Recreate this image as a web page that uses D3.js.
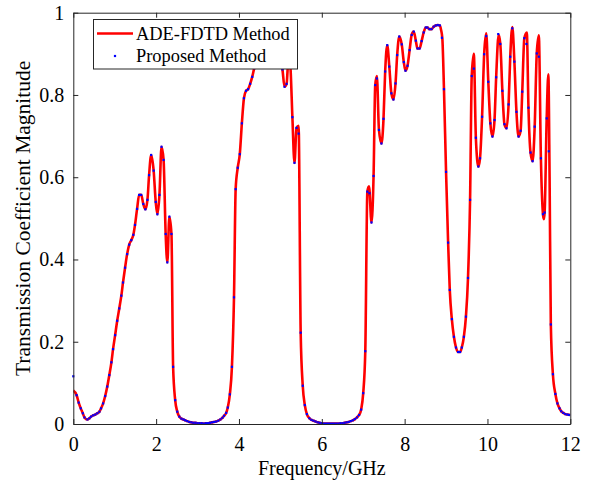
<!DOCTYPE html>
<html>
<head>
<meta charset="utf-8">
<script src="https://cdn.jsdelivr.net/npm/d3@7"></script>
<style>
body { margin: 0; background: #fff; }
text { font-family: "Liberation Serif", "DejaVu Serif", serif; fill: #000; }
</style>
</head>
<body>
<div id="chart"></div>
<script>
// ADE-FDTD curve (red line)
var adeFreq = [0.00,0.08,0.13,0.18,0.23,0.27,0.34,0.39,0.43,0.48,0.53,0.58,0.63,0.67,0.72,0.77,0.82,0.87,0.92,0.96,
	1.01,1.06,1.11,1.16,1.20,1.25,1.30,1.35,1.40,1.45,1.49,1.54,1.59,1.64,1.69,1.74,1.79,1.83,1.88,1.94,
	1.99,2.03,2.08,2.13,2.18,2.23,2.27,2.32,2.37,2.41,2.46,2.51,2.56,2.61,2.66,2.70,2.75,2.80,2.85,2.90,
	2.95,3.00,3.05,3.10,3.15,3.20,3.25,3.30,3.35,3.40,3.45,3.50,3.55,3.60,3.64,3.69,3.73,3.78,3.83,3.88,
	3.92,3.97,4.02,4.07,4.12,4.17,4.22,4.27,4.32,4.37,4.42,4.47,4.52,4.57,4.62,4.67,4.72,4.77,4.82,4.87,
	4.92,4.97,5.01,5.05,5.10,5.15,5.20,5.24,5.29,5.34,5.39,5.44,5.49,5.54,5.59,5.64,5.70,5.75,5.80,5.85,
	5.90,5.95,6.00,6.10,6.20,6.30,6.40,6.50,6.55,6.60,6.65,6.70,6.75,6.80,6.85,6.90,6.95,7.00,7.05,7.10,
	7.14,7.20,7.25,7.29,7.33,7.38,7.44,7.49,7.53,7.58,7.63,7.68,7.73,7.78,7.82,7.87,7.93,7.98,8.02,8.07,
	8.12,8.17,8.22,8.27,8.31,8.36,8.41,8.46,8.51,8.55,8.60,8.65,8.70,8.75,8.80,8.85,8.88,8.91,8.95,9.00,
	9.05,9.09,9.14,9.19,9.24,9.29,9.34,9.38,9.43,9.48,9.53,9.58,9.62,9.67,9.72,9.78,9.82,9.87,9.92,9.97,
	10.02,10.07,10.12,10.17,10.21,10.27,10.31,10.36,10.41,10.46,10.51,10.55,10.60,10.65,10.70,10.75,10.80,10.84,10.89,10.95,
	10.99,11.04,11.09,11.14,11.19,11.24,11.29,11.34,11.36,11.38,11.43,11.47,11.50,11.53,11.58,11.64,11.69,11.74,11.78,11.83,
	11.88,11.93,12.00];
var adeVal = [0.081,0.070,0.052,0.038,0.026,0.016,0.011,0.014,0.018,0.021,0.023,0.026,0.030,0.038,0.050,0.068,0.091,0.119,0.150,0.182,
	0.216,0.251,0.281,0.312,0.344,0.380,0.413,0.436,0.447,0.460,0.484,0.523,0.557,0.557,0.535,0.522,0.545,0.605,0.654,0.616,
	0.540,0.510,0.557,0.674,0.642,0.462,0.393,0.504,0.462,0.139,0.058,0.030,0.018,0.013,0.011,0.009,0.007,0.005,0.004,0.003,
	0.003,0.002,0.002,0.002,0.001,0.002,0.002,0.003,0.004,0.005,0.006,0.008,0.011,0.015,0.020,0.027,0.040,0.072,0.139,0.308,
	0.571,0.623,0.656,0.731,0.792,0.810,0.814,0.827,0.844,0.865,0.878,0.888,0.895,0.905,0.912,0.916,0.910,0.902,0.906,0.915,
	0.918,0.905,0.885,0.862,0.820,0.827,0.895,0.872,0.746,0.635,0.720,0.725,0.222,0.093,0.046,0.024,0.014,0.010,0.008,0.006,
	0.004,0.003,0.002,0.001,0.001,0.001,0.001,0.002,0.003,0.004,0.005,0.007,0.009,0.012,0.016,0.022,0.035,0.075,0.177,0.565,
	0.578,0.490,0.603,0.824,0.846,0.715,0.682,0.742,0.857,0.921,0.869,0.804,0.789,0.828,0.897,0.942,0.923,0.880,0.859,0.871,
	0.909,0.946,0.954,0.932,0.913,0.913,0.931,0.952,0.964,0.964,0.960,0.960,0.966,0.969,0.970,0.969,0.958,0.938,0.814,0.613,
	0.441,0.326,0.255,0.212,0.186,0.175,0.175,0.186,0.212,0.261,0.355,0.545,0.846,0.900,0.696,0.626,0.646,0.747,0.899,0.950,
	0.832,0.731,0.699,0.739,0.843,0.946,0.924,0.810,0.729,0.719,0.777,0.893,0.965,0.881,0.759,0.699,0.713,0.808,0.938,0.952,
	0.769,0.660,0.639,0.723,0.901,0.945,0.646,0.510,0.498,0.514,0.743,0.850,0.600,0.242,0.121,0.073,0.050,0.038,0.031,0.027,
	0.024,0.023,0.022];

// Proposed method samples (blue dots)
var propFreq = [0.00,0.08,0.13,0.18,0.23,0.27,0.34,0.39,0.43,0.48,0.53,0.58,0.63,0.67,0.72,0.77,0.82,0.87,0.92,0.96,
	1.01,1.06,1.11,1.16,1.20,1.25,1.30,1.35,1.40,1.45,1.49,1.54,1.59,1.64,1.69,1.74,1.79,1.83,1.88,1.94,
	1.99,2.03,2.08,2.13,2.18,2.23,2.27,2.32,2.37,2.41,2.46,2.51,2.56,2.61,2.66,2.70,2.75,2.80,2.85,2.90,
	2.95,3.00,3.05,3.10,3.15,3.20,3.25,3.30,3.35,3.40,3.45,3.50,3.55,3.60,3.64,3.69,3.73,3.78,3.83,3.88,
	3.92,3.97,4.02,4.07,4.12,4.17,4.22,4.27,4.32,4.37,4.42,4.47,4.52,4.57,4.62,4.67,4.72,4.77,4.82,4.87,
	4.92,4.97,5.01,5.05,5.10,5.15,5.20,5.24,5.29,5.34,5.39,5.44,5.49,5.54,5.59,5.64,5.70,5.75,5.80,5.85,
	5.90,5.95,6.00,6.05,6.10,6.15,6.20,6.25,6.30,6.35,6.40,6.45,6.50,6.55,6.60,6.65,6.70,6.75,6.80,6.85,
	6.90,6.95,7.00,7.05,7.10,7.15,7.20,7.25,7.29,7.33,7.38,7.44,7.49,7.53,7.58,7.63,7.68,7.73,7.78,7.82,
	7.87,7.93,7.98,8.02,8.07,8.12,8.17,8.22,8.27,8.31,8.36,8.41,8.46,8.51,8.55,8.60,8.65,8.70,8.75,8.80,
	8.85,8.90,8.95,9.00,9.05,9.09,9.14,9.19,9.24,9.29,9.34,9.38,9.43,9.48,9.53,9.58,9.62,9.67,9.72,9.78,
	9.82,9.87,9.92,9.97,10.02,10.07,10.12,10.17,10.21,10.26,10.31,10.36,10.41,10.46,10.51,10.55,10.60,10.65,10.70,10.75,
	10.80,10.84,10.89,10.94,10.99,11.04,11.09,11.14,11.19,11.24,11.29,11.34,11.38,11.43,11.48,11.53,11.58,11.64,11.69,11.74,
	11.78,11.83,11.88,11.93,11.97];
var propVal = [0.116,0.070,0.052,0.038,0.026,0.016,0.011,0.014,0.018,0.021,0.023,0.026,0.030,0.038,0.050,0.068,0.091,0.119,0.150,0.182,
	0.216,0.251,0.281,0.312,0.344,0.380,0.413,0.436,0.447,0.460,0.484,0.523,0.557,0.557,0.535,0.522,0.545,0.605,0.654,0.616,
	0.540,0.510,0.557,0.674,0.642,0.462,0.393,0.504,0.462,0.139,0.058,0.030,0.018,0.013,0.011,0.009,0.007,0.005,0.004,0.003,
	0.003,0.002,0.002,0.002,0.001,0.002,0.002,0.003,0.004,0.005,0.006,0.008,0.011,0.015,0.020,0.027,0.040,0.072,0.139,0.308,
	0.571,0.623,0.656,0.731,0.792,0.810,0.814,0.827,0.844,0.865,0.878,0.888,0.895,0.905,0.912,0.916,0.910,0.902,0.906,0.915,
	0.918,0.905,0.885,0.862,0.820,0.827,0.895,0.872,0.746,0.635,0.720,0.706,0.222,0.093,0.046,0.024,0.014,0.010,0.008,0.006,
	0.004,0.003,0.002,0.001,0.001,0.001,0.001,0.001,0.001,0.001,0.001,0.002,0.002,0.003,0.004,0.005,0.007,0.009,0.012,0.016,
	0.022,0.035,0.075,0.177,0.565,0.561,0.490,0.603,0.824,0.840,0.715,0.682,0.742,0.857,0.921,0.869,0.804,0.789,0.828,0.897,
	0.942,0.923,0.880,0.859,0.871,0.909,0.946,0.954,0.932,0.913,0.913,0.931,0.952,0.964,0.964,0.960,0.960,0.966,0.969,0.970,
	0.969,0.939,0.814,0.613,0.441,0.326,0.255,0.212,0.186,0.175,0.175,0.186,0.212,0.261,0.355,0.545,0.846,0.864,0.696,0.626,
	0.646,0.747,0.899,0.943,0.832,0.731,0.699,0.739,0.843,0.948,0.924,0.810,0.729,0.719,0.777,0.893,0.962,0.881,0.759,0.699,
	0.713,0.808,0.938,0.924,0.769,0.660,0.639,0.723,0.901,0.893,0.646,0.510,0.514,0.743,0.663,0.242,0.121,0.073,0.050,0.038,
	0.031,0.027,0.024,0.023,0.022];

var xTicks = [0, 2, 4, 6, 8, 10, 12];
var yTicks = [0, 0.2, 0.4, 0.6, 0.8, 1];
var seriesNames = ["ADE-FDTD Method", "Proposed Method"];

var width = 593;
var height = 487;
var plotLeft = 73.3, plotRight = 570.3, plotTop = 12.7, plotBottom = 424;
var axisColor = "#262626";

var xScale = d3.scaleLinear().domain([0, 12]).range([plotLeft, plotRight]);
var yScale = d3.scaleLinear().domain([0, 1]).range([plotBottom, plotTop]);

var svg = d3.select("#chart")
	.append("svg")
	.attr("width", width)
	.attr("height", height);

svg.append("defs").append("clipPath")
	.attr("id", "plotclip")
	.append("rect")
	.attr("x", plotLeft).attr("y", plotTop - 2)
	.attr("width", plotRight - plotLeft).attr("height", plotBottom - plotTop + 2);

// red line
var line = d3.line()
	.x(function(d){ return xScale(d[0]); })
	.y(function(d){ return yScale(d[1]); })
	.curve(d3.curveMonotoneX);

var adePts = adeFreq.map(function(f, i){ return [f, adeVal[i]]; });
var propPts = propFreq.map(function(f, i){ return [f, propVal[i]]; });

svg.append("path")
	.datum(adePts)
	.attr("clip-path", "url(#plotclip)")
	.attr("d", line)
	.attr("fill", "none")
	.attr("stroke", "#ff0000")
	.attr("stroke-width", 2.6)
	.attr("stroke-linejoin", "round");

// blue dots
svg.append("g")
	.selectAll("rect")
	.data(propPts)
	.enter()
	.append("rect")
	.attr("x", function(d){ return xScale(d[0]) - 1.1; })
	.attr("y", function(d){ return yScale(d[1]) - 1.1; })
	.attr("width", 2.2)
	.attr("height", 2.2)
	.attr("fill", "#0000ff");

// axes, ticks inward on all four sides
var xAxis = d3.axisBottom(xScale).tickValues(xTicks).tickSizeInner(-5).tickSizeOuter(0)
	.tickPadding(13).tickFormat(d3.format("d"));
var yAxis = d3.axisLeft(yScale).tickValues(yTicks).tickSizeInner(-5).tickSizeOuter(0)
	.tickPadding(9).tickFormat(function(d){ return d === 0 || d === 1 ? d : d.toFixed(1); });

var gx = svg.append("g")
	.attr("transform", "translate(0," + plotBottom + ")")
	.call(xAxis);
var gy = svg.append("g")
	.attr("transform", "translate(" + plotLeft + ",0)")
	.call(yAxis);
var gxTop = svg.append("g")
	.attr("transform", "translate(0," + plotTop + ")")
	.call(d3.axisTop(xScale).tickValues(xTicks).tickSizeInner(-5).tickSizeOuter(0).tickFormat(""));
var gyRight = svg.append("g")
	.attr("transform", "translate(" + plotRight + ",0)")
	.call(d3.axisRight(yScale).tickValues(yTicks).tickSizeInner(-5).tickSizeOuter(0).tickFormat(""));

[gx, gy, gxTop, gyRight].forEach(function(g){
	g.selectAll(".domain").attr("stroke", axisColor).attr("stroke-width", 1);
	g.selectAll(".tick line").attr("stroke", axisColor).attr("stroke-width", 1);
	g.selectAll(".tick text")
		.style("font-family", "'Liberation Serif', serif")
		.style("font-size", "20px")
		.attr("fill", "#000");
});

// axis titles
svg.append("text")
	.attr("x", (plotLeft + plotRight) / 2)
	.attr("y", 475)
	.attr("text-anchor", "middle")
	.style("font-size", "20px")
	.text("Frequency/GHz");

svg.append("text")
	.attr("transform", "translate(30," + ((plotTop + plotBottom) / 2) + ") rotate(-90)")
	.attr("text-anchor", "middle")
	.style("font-size", "21.5px")
	.text("Transmission Coefficient Magnitude");

// legend
var legend = svg.append("g");
legend.append("rect")
	.attr("x", 93.5).attr("y", 19.5)
	.attr("width", 204).attr("height", 49.5)
	.attr("fill", "#fff")
	.attr("stroke", axisColor)
	.attr("stroke-width", 1);
legend.append("line")
	.attr("x1", 97).attr("x2", 133)
	.attr("y1", 33.5).attr("y2", 33.5)
	.attr("stroke", "#ff0000")
	.attr("stroke-width", 2.6);
legend.append("rect")
	.attr("x", 113.9).attr("y", 54.9)
	.attr("width", 2.2).attr("height", 2.2)
	.attr("fill", "#0000ff");
legend.selectAll("text.leg")
	.data(seriesNames)
	.enter()
	.append("text")
	.attr("class", "leg")
	.attr("x", 136)
	.attr("y", function(d, i){ return 39.5 + i * 22; })
	.style("font-size", "18.4px")
	.text(function(d){ return d; });
</script>
</body>
</html>
